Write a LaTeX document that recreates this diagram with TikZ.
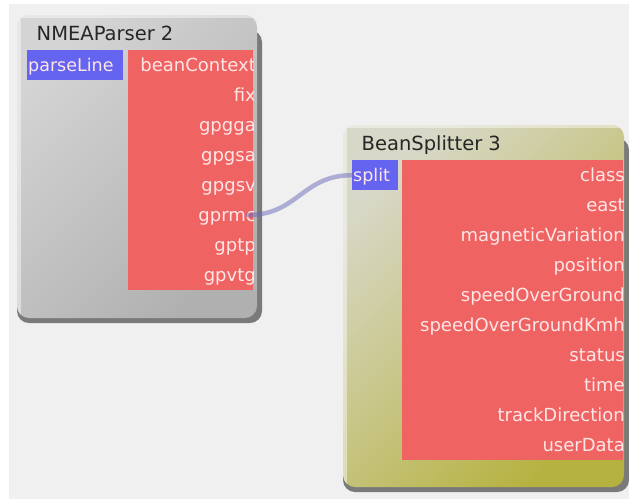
\documentclass[tikz,border=0pt]{standalone}
\usepackage{fontspec}
\setmainfont{DejaVu Sans}
\definecolor{bgc}{RGB}{240,240,240}
\definecolor{portred}{RGB}{239,99,99}
\definecolor{portblue}{RGB}{100,100,240}
\definecolor{porttxt}{RGB}{255,230,230}
\definecolor{shadowc}{RGB}{122,122,122}
\definecolor{wirec}{RGB}{105,105,185}
\definecolor{greytop}{RGB}{212,212,212}
\definecolor{greybot}{RGB}{176,176,176}
\definecolor{olivetop}{RGB}{216,216,200}
\definecolor{olivebot}{RGB}{182,178,64}
\tikzset{
  titletext/.style={anchor=base west, inner sep=0pt, font=\fontsize{19.5}{23}\selectfont, text=black!85},
  outport/.style={anchor=base east, inner sep=0pt, text height=15pt, text depth=2pt,
    font=\fontsize{18}{21}\selectfont, text=porttxt},
  inport/.style={anchor=north west, fill=portblue, inner xsep=1pt, inner ysep=0pt,
    minimum height=30pt, text height=15pt, text depth=2pt, align=left,
    font=\fontsize{17.5}{20}\selectfont, text=porttxt},
  shadowbox/.style={fill=shadowc, rounded corners=12pt},
  edgelight/.style={fill=white, fill opacity=0.45},
  wire/.style={draw=wirec, line width=4.5pt, opacity=0.5, line cap=round}
}
\begin{document}
\begin{tikzpicture}[x=1pt,y=-1pt]
\useasboundingbox (0,0) rectangle (629,499);
\fill[white] (0,0) rectangle (629,499);
\fill[bgc] (9,4) rectangle (629,499);

% ---------- NMEAParser 2 ----------
\fill[shadowbox] (17,30) rectangle (262,323);
\shade[rounded corners=12pt, top color=greytop, bottom color=greybot, shading angle=45]
  (17,15) rectangle (257,318);
\begin{scope}
  \clip[rounded corners=12pt] (17,15) rectangle (257,318);
  \fill[edgelight] (17,15) rectangle (21,318);
  \fill[edgelight] (21,15) rectangle (257,18);
\end{scope}
\node[titletext] (t1) at (36.5,40) {NMEAParser 2};
\node[inport, text width=94pt] (parseLine) at (27,50) {parseLine};
\fill[portred] (128,50) rectangle (253,290);
\begin{scope}
  \clip (128,50) rectangle (253,290);
  \node[outport] (beanContext) at (256,71.5) {beanContext};
  \node[outport] (fix)   at (256,101.5) {fix};
  \node[outport] (gpgga) at (256,131.5) {gpgga};
  \node[outport] (gpgsa) at (256,161.5) {gpgsa};
  \node[outport] (gpgsv) at (256,191.5) {gpgsv};
  \node[outport] (gprmc) at (256,221.5) {gprmc};
  \node[outport] (gptp)  at (256,251.5) {gptp};
  \node[outport] (gpvtg) at (256,281.5) {gpvtg};
\end{scope}

% ---------- BeanSplitter 3 ----------
\fill[shadowbox] (343,138) rectangle (629,492);
\shade[rounded corners=12pt, top color=olivetop, bottom color=olivebot, shading angle=45]
  (343,125) rectangle (624,487);
\begin{scope}
  \clip[rounded corners=12pt] (343,125) rectangle (624,487);
  \fill[edgelight] (343,125) rectangle (347,487);
  \fill[edgelight] (347,125) rectangle (624,128);
\end{scope}
\node[titletext] (t2) at (361.5,150) {BeanSplitter 3};
\node[inport, text width=44pt] (split) at (352,160) {split};
\fill[portred] (402,160) rectangle (623,460);
\begin{scope}
  \clip (402,160) rectangle (623,460);
  \node[outport] (class) at (625,181.5) {class};
  \node[outport] (east)  at (625,211.5) {east};
  \node[outport] (magneticVariation) at (625,241.5) {magneticVariation};
  \node[outport] (position) at (625,271.5) {position};
  \node[outport] (speedOverGround) at (625,301.5) {speedOverGround};
  \node[outport] (speedOverGroundKmh) at (625,331.5) {speedOverGroundKmh};
  \node[outport] (status) at (625,361.5) {status};
  \node[outport] (time) at (625,391.5) {time};
  \node[outport] (trackDirection) at (625,421.5) {trackDirection};
  \node[outport] (userData) at (625,451.5) {userData};
\end{scope}

% ---------- connector ----------
\draw[wire] ([xshift=-8pt]gprmc.east) .. controls +(50,0) and +(-50,0) .. (split.west);
\end{tikzpicture}
\end{document}
